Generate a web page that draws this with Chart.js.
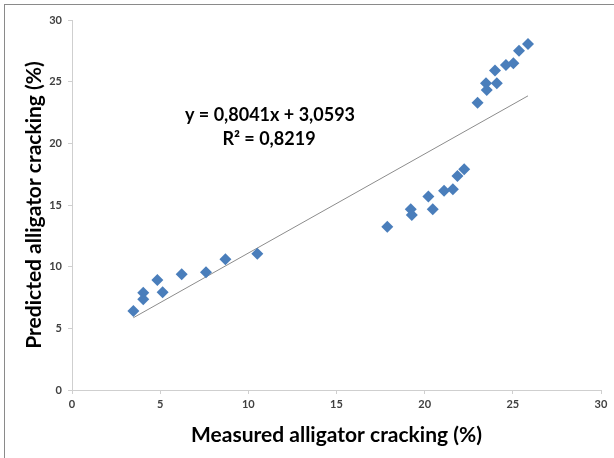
<!DOCTYPE html>
<html>
<head>
<meta charset="utf-8">
<script src="https://cdn.jsdelivr.net/npm/chart.js@4/dist/chart.umd.min.js"></script>
<style>
  body { margin: 0; background: #fff; }
  #wrap { position: relative; width: 614px; height: 458px; }
  #frame { position: absolute; left: 4px; top: 4px; right: -10px; bottom: -10px;
           border-left: 1px solid #8a8a8a; border-top: 1px solid #8a8a8a; pointer-events: none; }
</style>
</head>
<body>
<div id="wrap">
  <canvas id="scatterChart" width="614" height="458"></canvas>
  <div id="frame"></div>
</div>
<script>
// measured vs predicted alligator cracking (%)
const measured = [3.48, 4.04, 4.04, 4.84, 5.14, 6.22, 7.6, 8.7, 10.51,
  17.88, 19.21, 19.27, 20.21, 20.46, 21.1, 21.6, 21.86, 22.24,
  23.0, 23.48, 23.52, 24.09, 23.99, 24.61, 25.03, 25.35, 25.86];
const predicted = [6.4, 7.89, 7.35, 8.92, 7.92, 9.38, 9.54, 10.6, 11.05,
  13.24, 14.65, 14.19, 15.68, 14.65, 16.16, 16.27, 17.35, 17.9,
  23.3, 24.87, 24.33, 24.87, 25.9, 26.36, 26.5, 27.5, 28.06];

// linear trendline endpoints
const trendX = [3.48, 25.86];
const trendY = [5.86, 23.85];

const equationLines = ['y = 0,8041x + 3,0593', 'R\u00b2 = 0,8219'];

const scatterPoints = measured.map((x, i) => ({ x: x, y: predicted[i] }));
const trendPoints = trendX.map((x, i) => ({ x: x, y: trendY[i] }));

// equation label like the spreadsheet trendline label
const equationPlugin = {
  id: 'equation',
  afterDatasetsDraw(chart) {
    const ctx = chart.ctx;
    ctx.save();
    ctx.font = 'bold 18px Lato';
    ctx.fillStyle = '#000';
    ctx.textAlign = 'center';
    ctx.textBaseline = 'middle';
    ctx.fillText(equationLines[0], 270, 115);
    ctx.fillText(equationLines[1], 269, 139);
    ctx.restore();
  }
};

const tickFont = { family: 'Lato', size: 11, weight: 'bold' };
const titleFont = { family: 'Lato', size: 21, weight: 'bold' };

new Chart(document.getElementById('scatterChart').getContext('2d'), {
  type: 'scatter',
  data: {
    datasets: [{
      label: 'Data',
      data: scatterPoints,
      backgroundColor: '#4a7ebb',
      borderColor: '#4a7ebb',
      borderWidth: 0,
      pointStyle: 'rectRot',
      pointRadius: 6,
      order: 1
    }, {
      type: 'line',
      label: 'Trend',
      data: trendPoints,
      borderColor: '#8c8c8c',
      borderWidth: 1,
      pointRadius: 0,
      fill: false,
      order: 2
    }]
  },
  options: {
    responsive: false,
    animation: false,
    layout: { padding: { left: 0, right: 13, top: 20, bottom: 0 } },
    plugins: {
      legend: { display: false },
      tooltip: { enabled: false }
    },
    scales: {
      x: {
        type: 'linear',
        min: 0,
        max: 30,
        ticks: { stepSize: 5, font: tickFont, color: '#404040', padding: 4 },
        grid: { drawOnChartArea: false, tickLength: 4, color: '#cfcfcf' },
        border: { color: '#cfcfcf' },
        title: { display: true, text: 'Measured alligator cracking (%)', font: titleFont, color: '#000', padding: { bottom: 10 } },
        afterFit(scale) { scale.height = 68; }
      },
      y: {
        min: 0,
        max: 30,
        ticks: { stepSize: 5, font: tickFont, color: '#404040', padding: 6 },
        grid: { drawOnChartArea: false, tickLength: 4, color: '#cfcfcf' },
        border: { color: '#cfcfcf' },
        title: { display: true, text: 'Predicted alligator cracking (%)', font: titleFont, color: '#000', padding: { top: 22 } },
        afterFit(scale) { scale.width = 72; }
      }
    }
  },
  plugins: [equationPlugin]
});
</script>
</body>
</html>
